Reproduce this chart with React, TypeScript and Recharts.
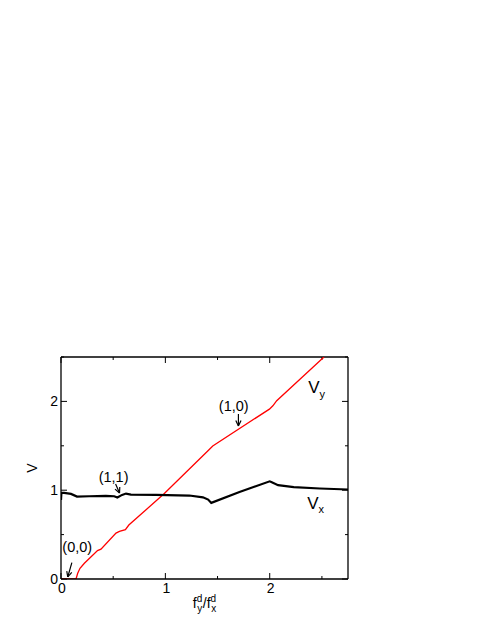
import {
  LineChart,
  Line,
  XAxis,
  YAxis,
  ReferenceLine,
  ReferenceDot
} from "recharts";

// f_y^d / f_x^d values and the two velocities
const fVx = [0, 0.004, 0.03, 0.096, 0.153, 0.27, 0.43, 0.51, 0.54, 0.585, 0.623, 0.67, 0.91, 1.23, 1.36, 1.41, 1.44, 1.71, 2.0, 2.02, 2.08, 2.23, 2.48, 2.75];
const vx = [0.89, 0.97, 0.97, 0.958, 0.928, 0.932, 0.936, 0.932, 0.917, 0.947, 0.962, 0.951, 0.947, 0.94, 0.92, 0.894, 0.857, 0.98, 1.1, 1.09, 1.057, 1.034, 1.019, 1.008];

const fVy = [0, 0.144, 0.16, 0.182, 0.224, 0.35, 0.383, 0.527, 0.56, 0.617, 0.65, 0.99, 1.406, 1.454, 1.997, 2.03, 2.067, 2.52];
const vy = [0, 0, 0.064, 0.12, 0.177, 0.32, 0.336, 0.517, 0.536, 0.555, 0.608, 0.962, 1.442, 1.498, 1.913, 1.95, 2.008, 2.5];

const xTicks = [0, 0.5, 1, 1.5, 2, 2.5];
const yTicks = [0, 0.5, 1, 1.5, 2, 2.5];
const X_MAX = 2.75;
const Y_MAX = 2.5;

// state labels and their arrows
const stateLabels = ["(0,0)", "(1,1)", "(1,0)"];
const labelPos = [[0.156, 0.36], [0.504, 1.149], [1.655, 1.948]];
const arrowFrom = [[0.104, 0.184], [0.523, 1.07], [1.7, 1.858]];
const arrowTo = [[0.065, 0.023], [0.561, 0.968], [1.7, 1.723]];

const vxData = fVx.map((f, i) => ({ f, v: vx[i] }));
const vyData = fVy.map((f, i) => ({ f, v: vy[i] }));

const FONT = "'Liberation Sans', Arial, sans-serif";
const TM = 2;
const isMajor = (v: number) => Math.abs(v - Math.round(v)) < 1e-6;

function BottomTick(props: any) {
  const { x, y, payload } = props;
  const v = payload.value;
  if (!isMajor(v)) return <g />;
  return (
    <text x={x + 1} y={y - TM + 14} textAnchor="middle" fontSize={14} fontFamily={FONT} fill="#000">
      {v}
    </text>
  );
}

function LeftTick(props: any) {
  const { x, y, payload } = props;
  const v = payload.value;
  if (!isMajor(v)) return <g />;
  return (
    <text x={x + TM - 3} y={y + 4.5} textAnchor="end" fontSize={14} fontFamily={FONT} fill="#000">
      {v}
    </text>
  );
}

// inward tick marks at both ends of a reference line
function TickPair(props: any, len: number) {
  const { x1, y1, x2, y2 } = props;
  if (Math.abs(x1 - x2) < 0.5) {
    const top = Math.min(y1, y2);
    const bot = Math.max(y1, y2);
    return (
      <g stroke="#000" strokeWidth={1}>
        <line x1={x1} y1={bot} x2={x1} y2={bot - len} />
        <line x1={x1} y1={top} x2={x1} y2={top + len} />
      </g>
    );
  }
  const left = Math.min(x1, x2);
  const right = Math.max(x1, x2);
  return (
    <g stroke="#000" strokeWidth={1}>
      <line x1={left} y1={y1} x2={left + len} y2={y1} />
      <line x1={right} y1={y1} x2={right - len} y2={y1} />
    </g>
  );
}

function Arrow(props: any) {
  const { x1, y1, x2, y2 } = props;
  const a = Math.atan2(y2 - y1, x2 - x1);
  const len = 6;
  const spread = 0.45;
  return (
    <g stroke="#000" strokeWidth={1.2} fill="none">
      <line x1={x1} y1={y1} x2={x2} y2={y2} />
      <line x1={x2} y1={y2} x2={x2 - len * Math.cos(a - spread)} y2={y2 - len * Math.sin(a - spread)} />
      <line x1={x2} y1={y2} x2={x2 - len * Math.cos(a + spread)} y2={y2 - len * Math.sin(a + spread)} />
    </g>
  );
}

const frameLine = { stroke: "#000", strokeWidth: 1.3 };

export default function App() {
  return (
    <div style={{ position: "absolute", left: 0, top: 0 }}>
      <LineChart width={485} height={627} margin={{ top: 357, right: 137, bottom: 18, left: 0 }}>
        <XAxis
          dataKey="f"
          type="number"
          domain={[0, X_MAX]}
          ticks={xTicks}
          allowDataOverflow
          height={30}
          tickLine={false}
          tickSize={0}
          tickMargin={TM}
          tick={<BottomTick />}
          axisLine={frameLine}
          label={{
            content: (p: any) => {
              const vb = p.viewBox;
              return (
                <text x={vb.x + vb.width / 2} y={vb.y + 29} textAnchor="middle" fontSize={14} fontFamily={FONT} fill="#000">
                  <tspan>f</tspan>
                  <tspan dy={-6} fontSize={10}>d</tspan>
                  <tspan dx={-5} dy={10} fontSize={10}>y</tspan>
                  <tspan dx={0.5} dy={-4}>/f</tspan>
                  <tspan dy={-6} fontSize={10}>d</tspan>
                  <tspan dx={-5} dy={10} fontSize={10}>x</tspan>
                </text>
              );
            }
          }}
        />
        <YAxis
          type="number"
          domain={[0, Y_MAX]}
          ticks={yTicks}
          allowDataOverflow
          width={61}
          tickLine={false}
          tickSize={0}
          tickMargin={TM}
          tick={<LeftTick />}
          axisLine={frameLine}
          label={{
            content: (p: any) => {
              const vb = p.viewBox;
              const cx = vb.x + 37;
              const cy = vb.y + vb.height / 2;
              return (
                <text x={cx} y={cy} transform={`rotate(-90 ${cx} ${cy})`} textAnchor="middle" fontSize={14} fontFamily={FONT} fill="#000">
                  V
                </text>
              );
            }
          }}
        />

        {/* frame: top and right edges */}
        <ReferenceLine y={Y_MAX} stroke="#000" strokeWidth={1.3} />
        <ReferenceLine x={X_MAX} stroke="#000" strokeWidth={1.3} />

        {xTicks.map((t) => (
          <ReferenceLine key={"xt" + t} x={t} shape={(p: any) => TickPair(p, isMajor(t) ? 6 : 3)} />
        ))}
        {yTicks.map((t) => (
          <ReferenceLine key={"yt" + t} y={t} shape={(p: any) => TickPair(p, isMajor(t) ? 6 : 3)} />
        ))}

        <Line
          data={vyData}
          dataKey="v"
          type="linear"
          stroke="#ff0000"
          strokeWidth={1.3}
          dot={false}
          isAnimationActive={false}
        />
        <Line
          data={vxData}
          dataKey="v"
          type="linear"
          stroke="#000"
          strokeWidth={2.2}
          dot={false}
          isAnimationActive={false}
        />

        {stateLabels.map((s, i) => (
          <ReferenceDot
            key={s}
            x={labelPos[i][0]}
            y={labelPos[i][1]}
            shape={(p: any) => (
              <text x={p.cx} y={p.cy + 5} textAnchor="middle" fontSize={14.5} fontFamily={FONT} fill="#000">
                {s}
              </text>
            )}
          />
        ))}
        {stateLabels.map((s, i) => (
          <ReferenceLine
            key={"a" + s}
            segment={[
              { x: arrowFrom[i][0], y: arrowFrom[i][1] },
              { x: arrowTo[i][0], y: arrowTo[i][1] }
            ]}
            shape={(p: any) => <Arrow {...p} />}
          />
        ))}

        <ReferenceDot
          x={2.45}
          y={2.16}
          shape={(p: any) => (
            <text x={p.cx} y={p.cy + 6} textAnchor="middle" fontSize={17} fontFamily={FONT} fill="#000">
              V<tspan dy={5} fontSize={11}>y</tspan>
            </text>
          )}
        />
        <ReferenceDot
          x={2.44}
          y={0.86}
          shape={(p: any) => (
            <text x={p.cx} y={p.cy + 6} textAnchor="middle" fontSize={17} fontFamily={FONT} fill="#000">
              V<tspan dy={4} fontSize={11}>x</tspan>
            </text>
          )}
        />
      </LineChart>
    </div>
  );
}
